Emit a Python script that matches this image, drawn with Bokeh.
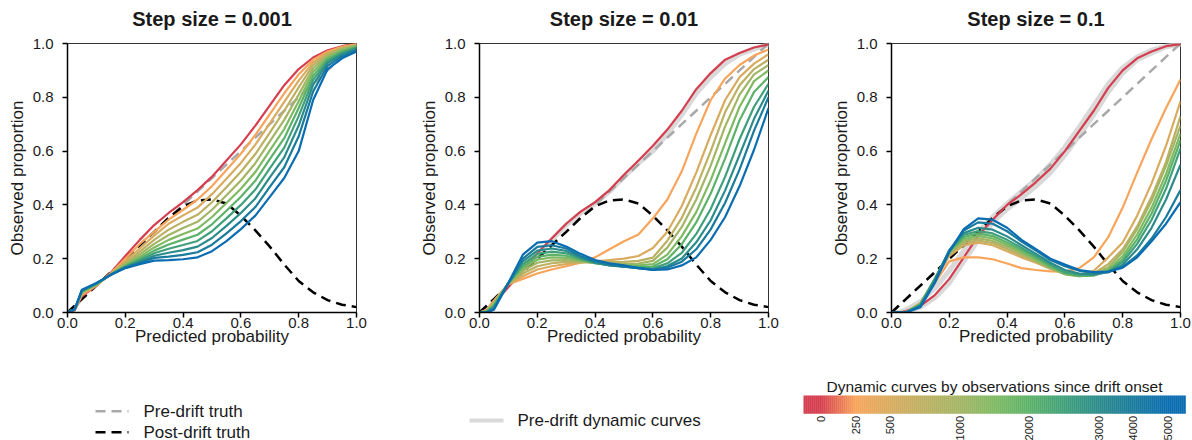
import math
from bokeh.plotting import figure
from bokeh.models import Range1d, FixedTicker, NumeralTickFormatter
from bokeh.layouts import row, column
from bokeh.embed import file_html
from bokeh.resources import INLINE
from bokeh.core.properties import value

# ---------------- data ----------------
pred_prob = [0, 0.025, 0.05, 0.1, 0.15, 0.2, 0.25, 0.3, 0.35, 0.4, 0.45, 0.5,
             0.55, 0.6, 0.65, 0.7, 0.75, 0.8, 0.85, 0.9, 0.95, 1.0]
pre_drift_truth = [0, 0.025, 0.05, 0.1, 0.15, 0.2, 0.25, 0.3, 0.35, 0.4, 0.45, 0.5,
                   0.55, 0.6, 0.65, 0.7, 0.75, 0.8, 0.85, 0.9, 0.95, 1.0]
post_drift_truth = [0, 0.025, 0.05, 0.1, 0.15, 0.2, 0.25, 0.3, 0.352, 0.395, 0.417, 0.42,
                    0.405, 0.36, 0.305, 0.245, 0.178, 0.117, 0.075, 0.046, 0.029, 0.02]

step_sizes = ["0.001", "0.01", "0.1"]
checkpoints = [0, 250, 500, 750, 1000, 1500, 2000, 2500, 3000, 4000, 5000]
colorbar_labels = [0, 250, 500, 1000, 2000, 3000, 4000, 5000]

curves_step_0001 = [
    [0, .008, .06, .10, .148, .21, .27, .325, .37, .41, .455, .505, .565, .625, .695, .77, .845, .905, .948, .975, .99, 1.0],
    [0, .012, .065, .10, .146, .20, .255, .30, .345, .382, .42, .47, .53, .59, .66, .737, .815, .885, .94, .97, .988, .998],
    [0, .012, .07, .102, .144, .19, .238, .286, .33, .361, .39, .44, .497, .556, .624, .703, .783, .862, .93, .965, .985, .996],
    [0, .012, .072, .103, .143, .184, .226, .27, .308, .337, .363, .41, .466, .523, .589, .669, .75, .837, .92, .96, .982, .994],
    [0, .012, .075, .104, .142, .179, .216, .255, .288, .314, .337, .382, .436, .491, .555, .636, .716, .81, .908, .954, .978, .992],
    [0, .012, .077, .105, .142, .175, .207, .242, .27, .292, .312, .355, .407, .46, .522, .603, .682, .785, .895, .948, .974, .99],
    [0, .012, .078, .106, .141, .172, .20, .23, .253, .271, .289, .328, .378, .43, .49, .57, .648, .76, .88, .942, .97, .987],
    [0, .012, .08, .107, .141, .17, .194, .22, .237, .251, .266, .302, .35, .40, .457, .536, .613, .73, .865, .935, .965, .984],
    [0, .012, .082, .108, .14, .168, .189, .211, .222, .232, .245, .277, .322, .37, .424, .502, .577, .695, .847, .927, .96, .98],
    [0, .012, .083, .109, .14, .166, .184, .203, .208, .214, .224, .252, .294, .34, .392, .467, .54, .655, .822, .917, .953, .975],
    [0, .012, .085, .11, .14, .165, .18, .193, .195, .198, .205, .228, .265, .31, .36, .43, .50, .60, .79, .905, .945, .97],
]

curves_step_001 = [
    [0, .005, .035, .095, .16, .22, .275, .33, .375, .41, .455, .512, .565, .62, .68, .75, .83, .89, .94, .965, .985, .997],
    [0, .01, .045, .105, .125, .145, .16, .172, .185, .205, .235, .265, .29, .35, .42, .525, .665, .79, .87, .92, .955, .978],
    [0, .008, .04, .106, .135, .16, .172, .18, .185, .19, .195, .20, .21, .24, .30, .396, .52, .66, .79, .875, .925, .96],
    [0, .006, .037, .107, .145, .172, .183, .188, .187, .186, .187, .188, .192, .204, .267, .352, .465, .60, .745, .845, .905, .94],
    [0, .005, .034, .108, .155, .185, .194, .195, .19, .184, .182, .18, .182, .192, .241, .318, .42, .546, .692, .81, .885, .92],
    [0, .004, .03, .108, .163, .196, .205, .203, .193, .183, .178, .175, .175, .18, .215, .284, .373, .492, .63, .765, .86, .90],
    [0, .003, .026, .109, .172, .207, .215, .211, .196, .183, .176, .172, .17, .171, .198, .254, .335, .442, .573, .715, .82, .875],
    [0, .002, .022, .109, .18, .218, .226, .22, .20, .184, .175, .17, .167, .164, .183, .222, .292, .385, .505, .645, .765, .85],
    [0, .001, .018, .11, .19, .23, .238, .229, .205, .186, .175, .17, .165, .16, .173, .201, .261, .343, .454, .586, .72, .825],
    [0, 0, .014, .11, .20, .244, .25, .238, .21, .19, .178, .17, .165, .159, .167, .189, .235, .309, .408, .532, .676, .80],
    [0, 0, .01, .11, .215, .26, .265, .245, .218, .195, .183, .175, .165, .158, .16, .175, .205, .27, .355, .47, .605, .76],
]

curves_step_01 = [
    [0, 0, .005, .025, .065, .125, .205, .285, .345, .40, .44, .485, .535, .60, .675, .75, .835, .90, .945, .97, .99, .998],
    [0, 0, 0, .035, .11, .19, .205, .205, .198, .182, .165, .158, .153, .152, .165, .205, .28, .39, .52, .645, .76, .866],
    [0, 0, 0, .035, .12, .21, .25, .26, .25, .228, .205, .185, .163, .145, .14, .155, .205, .26, .36, .48, .62, .785],
    [0, 0, 0, .034, .122, .215, .258, .268, .258, .236, .212, .188, .163, .143, .136, .145, .18, .235, .32, .43, .56, .73],
    [0, 0, 0, .033, .124, .22, .265, .276, .266, .244, .218, .192, .165, .142, .135, .14, .168, .225, .31, .415, .545, .695],
    [0, 0, 0, .032, .125, .225, .272, .285, .275, .252, .225, .197, .168, .143, .135, .138, .16, .21, .29, .39, .515, .665],
    [0, 0, 0, .03, .125, .228, .28, .294, .284, .26, .232, .203, .172, .146, .137, .138, .155, .198, .272, .368, .49, .64],
    [0, 0, 0, .028, .123, .23, .288, .303, .294, .27, .24, .21, .178, .15, .14, .14, .152, .188, .255, .345, .46, .61],
    [0, 0, 0, .026, .12, .232, .295, .315, .308, .283, .25, .218, .185, .158, .145, .142, .15, .178, .235, .315, .42, .55],
    [0, 0, 0, .023, .115, .23, .305, .335, .33, .302, .264, .23, .195, .172, .155, .148, .15, .17, .212, .275, .355, .455],
    [0, 0, 0, .02, .11, .225, .31, .35, .345, .315, .27, .235, .20, .178, .158, .15, .152, .167, .205, .265, .33, .41],
]

predrift_curves_step_0001 = []
predrift_curves_step_001 = [
    [0, .005, .04, .10, .16, .215, .27, .325, .37, .405, .45, .505, .555, .60, .665, .735, .815, .875, .925, .96, .98, .995],
]
predrift_curves_step_01 = [
    [0, 0, .01, .04, .09, .155, .23, .30, .355, .405, .45, .495, .55, .615, .69, .77, .85, .91, .95, .975, .99, .998],
    [0, 0, .004, .02, .055, .11, .19, .27, .335, .385, .425, .47, .52, .585, .66, .735, .82, .89, .94, .965, .988, .997],
]

# ---------------- style ----------------
curve_colors = ["#d53e4f", "#f8a55b", "#d8ab5f", "#bcb062", "#a3b564", "#7fba63",
                "#5cb269", "#40a07a", "#2b8c8b", "#1a7b9d", "#0a6db1"]
FONT = "Liberation Sans"
TXT = "#1a1a1a"

panels = [
    (curves_step_0001, predrift_curves_step_0001, 412, 56),
    (curves_step_001, predrift_curves_step_001, 412, 56),
    (curves_step_01, predrift_curves_step_01, 368, 12),
]

# ---------------- title strip ----------------
TOP = 35
tstrip = figure(width=1192, height=TOP, x_range=Range1d(0, 1192), y_range=Range1d(0, TOP),
                output_backend="svg", toolbar_location=None, x_axis_type=None, y_axis_type=None,
                min_border_left=0, min_border_right=0, min_border_top=0, min_border_bottom=0)
tstrip.grid.visible = False
tstrip.outline_line_color = None
title_x = [67 + 144.5, 479 + 144.5, 891 + 144.5]
tstrip.text(title_x, [TOP - 18] * 3, text=["Step size = " + s for s in step_sizes],
            text_align="center", text_baseline="middle", text_font=value(FONT),
            text_font_size="20px", text_font_style="bold", text_color=TXT)

figs = []
for curves, grays, W, rb in panels:
    p = figure(width=W, height=365 - TOP, x_range=Range1d(0, 1), y_range=Range1d(0, 1),
               output_backend="svg", toolbar_location=None,
               min_border_left=67, min_border_right=rb, min_border_top=43 - TOP, min_border_bottom=53)
    p.grid.visible = False
    p.outline_line_color = "#333333"
    p.outline_line_width = 1
    for ax in (p.xaxis[0], p.yaxis[0]):
        ax.ticker = FixedTicker(ticks=[0, 0.2, 0.4, 0.6, 0.8, 1.0])
        ax.formatter = NumeralTickFormatter(format="0.0")
        ax.minor_tick_line_color = None
        ax.major_tick_in = 0
        ax.major_tick_out = 5
        ax.major_tick_line_width = 1.5
        ax.major_tick_line_color = "black"
        ax.axis_line_width = 1.5
        ax.axis_line_color = "black"
        ax.major_label_text_font = FONT
        ax.major_label_text_font_size = "15px"
        ax.major_label_text_color = TXT
        ax.axis_label_text_font = FONT
        ax.axis_label_text_font_size = "17px"
        ax.axis_label_text_font_style = "normal"
        ax.axis_label_text_color = TXT
    p.xaxis.major_label_standoff = 0
    p.xaxis.axis_label_standoff = -4
    p.yaxis.major_label_standoff = 9
    p.yaxis.axis_label_standoff = 3
    p.xaxis.axis_label = "Predicted probability"
    p.yaxis.axis_label = "Observed proportion"

    for g in grays:
        p.line(pred_prob, g, line_color="#d9d9d9", line_width=5)
    p.line(pred_prob, pre_drift_truth, line_color="#a9a9a9", line_width=2.5, line_dash="10 6")
    p.line(pred_prob, post_drift_truth, line_color="black", line_width=2.5, line_dash="10 6")
    for c, col in zip(curves, curve_colors):
        p.line(pred_prob, c, line_color=col, line_width=2.2)
    figs.append(p)

# ---------------- legend / colorbar strip ----------------
H = 75
leg = figure(width=1192, height=H, x_range=Range1d(0, 1192), y_range=Range1d(0, H),
             output_backend="svg", toolbar_location=None, x_axis_type=None, y_axis_type=None,
             min_border_left=0, min_border_right=0, min_border_top=0, min_border_bottom=0)
leg.grid.visible = False
leg.outline_line_color = None

def py(page_y):
    return 440 - page_y

# truth legend
leg.line([95, 128], [py(410.7)] * 2, line_color="#a9a9a9", line_width=2.5, line_dash="10 6")
leg.line([95, 128], [py(431.7)] * 2, line_color="black", line_width=2.5, line_dash="10 6")
leg.text([143, 143], [py(410.5), py(431.5)], text=["Pre-drift truth", "Post-drift truth"],
         text_font=value(FONT), text_font_size="17px", text_baseline="middle", text_color=TXT)
# pre-drift dynamic legend
leg.line([469, 503], [py(420)] * 2, line_color="#d9d9d9", line_width=4)
leg.text([517], [py(420)], text=["Pre-drift dynamic curves"],
         text_font=value(FONT), text_font_size="17px", text_baseline="middle", text_color=TXT)

# colorbar
bar_l, bar_r = 803, 1185
n = len(checkpoints)
seg = (bar_r - bar_l) / n

def hex2rgb(h):
    return tuple(int(h[i:i + 2], 16) for i in (1, 3, 5))

rgbs = [hex2rgb(c) for c in curve_colors]
lefts, rights, cols = [], [], []
step_px = 2.0
x0 = bar_l
while x0 < bar_r - 1e-6:
    x1 = min(x0 + step_px, bar_r)
    t = ((x0 + x1) / 2 - bar_l) / seg - 0.5
    t = max(0, min(n - 1, t))
    i0 = int(math.floor(t))
    i1 = min(i0 + 1, n - 1)
    f = t - i0
    c = tuple(int(round(rgbs[i0][k] * (1 - f) + rgbs[i1][k] * f)) for k in range(3))
    lefts.append(x0)
    rights.append(x1 + 0.3)
    cols.append("#%02x%02x%02x" % c)
    x0 = x1
leg.quad(left=lefts, right=rights, top=py(395), bottom=py(413.3), fill_color=cols, line_color=None)

tick_x = [bar_l + (checkpoints.index(v) + 0.5) * seg for v in colorbar_labels]
leg.text(tick_x, [py(415.5)] * len(tick_x), text=[str(v) for v in colorbar_labels],
         angle=math.pi / 2, text_align="right", text_baseline="middle",
         text_font=value(FONT), text_font_size="11px", text_color=TXT)
leg.text([(bar_l + bar_r) / 2], [py(386)], text=["Dynamic curves by observations since drift onset"],
         text_align="center", text_baseline="middle",
         text_font=value(FONT), text_font_size="15.5px", text_color=TXT)

layout = column(tstrip, row(*figs), leg)
open("out.html", "w").write(file_html(layout, INLINE))
